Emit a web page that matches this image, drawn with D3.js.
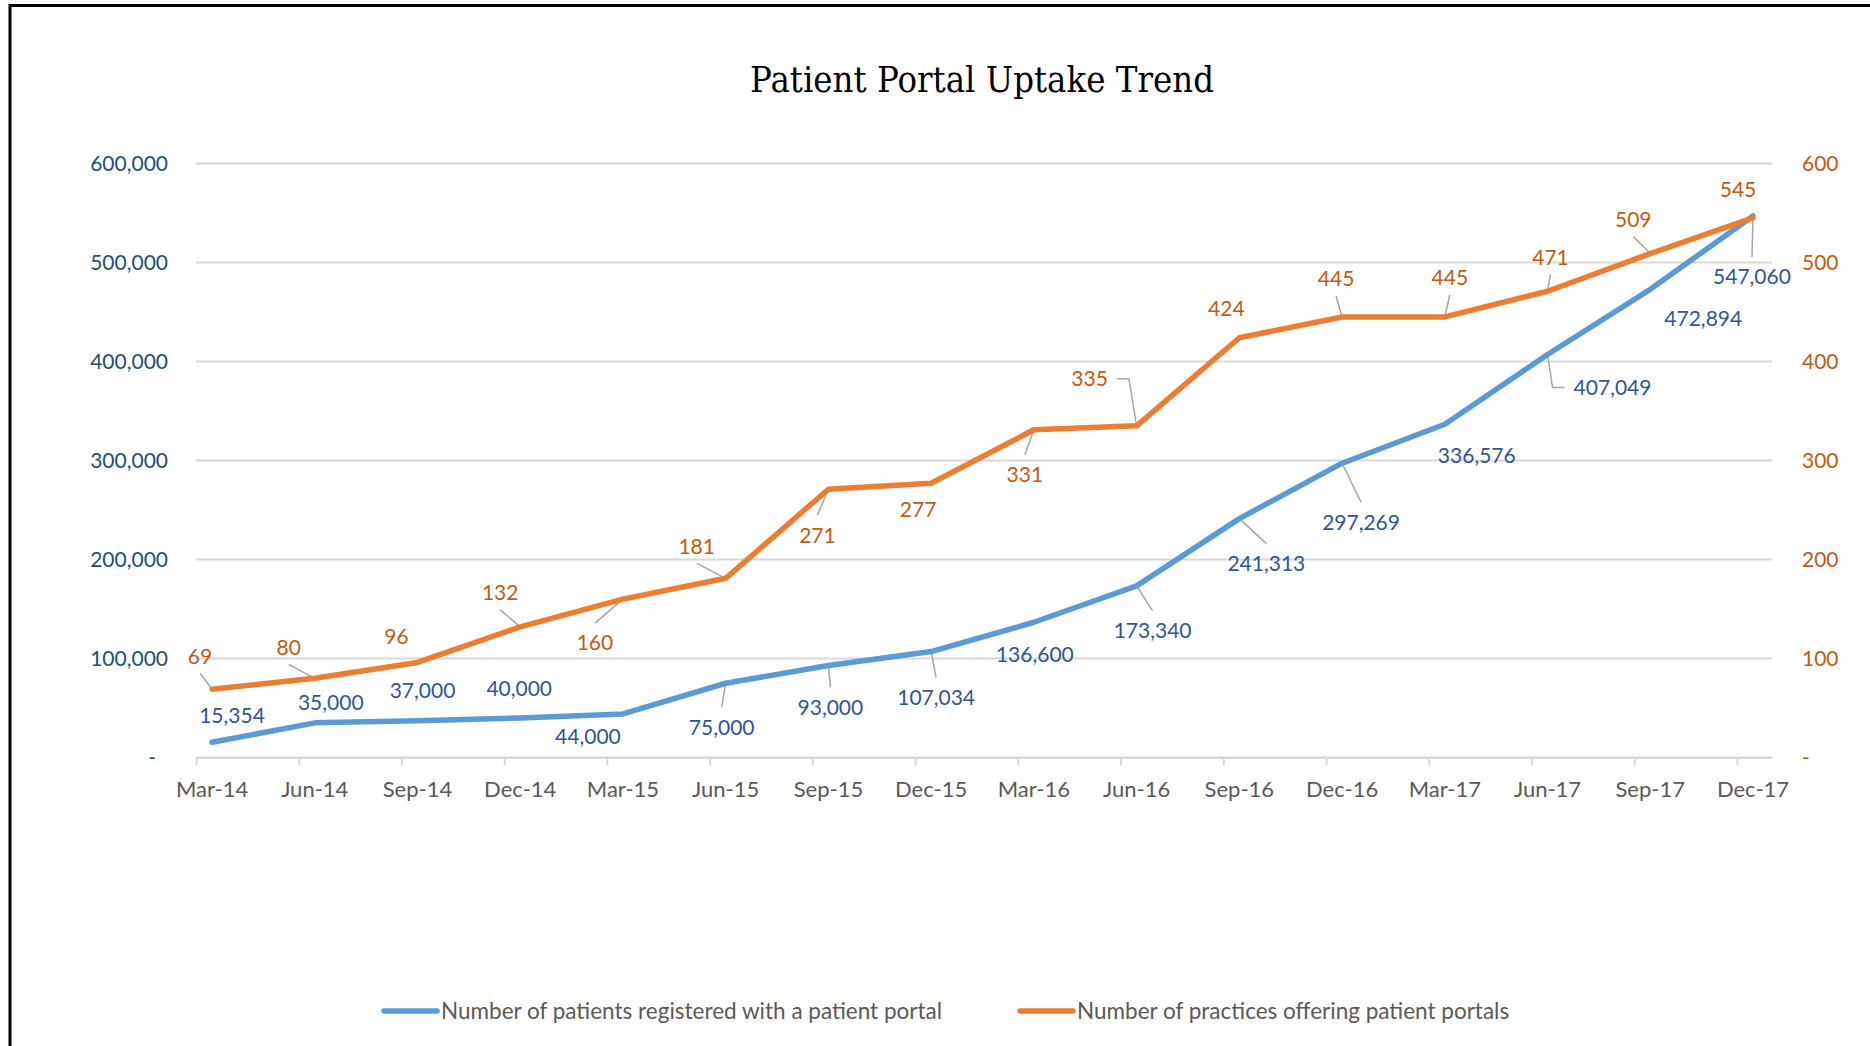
<!DOCTYPE html>
<html>
<head>
<meta charset="utf-8">
<script src="https://cdn.jsdelivr.net/npm/d3@7"></script>
<style>
    html, body { margin: 0; padding: 0; background: #fff; overflow: hidden; }
    text { font-family: Lato, 'Open Sans', sans-serif; }
</style>
</head>
<body>
<script>
const quarters = ['Mar-14', 'Jun-14', 'Sep-14', 'Dec-14', 'Mar-15', 'Jun-15', 'Sep-15', 'Dec-15',
    'Mar-16', 'Jun-16', 'Sep-16', 'Dec-16', 'Mar-17', 'Jun-17', 'Sep-17', 'Dec-17'];
const patients = [15354, 35000, 37000, 40000, 44000, 75000, 93000, 107034,
    136600, 173340, 241313, 297269, 336576, 407049, 472894, 547060];
const practices = [69, 80, 96, 132, 160, 181, 271, 277, 331, 335, 424, 445, 445, 471, 509, 545];
const leftTicks = [0, 100000, 200000, 300000, 400000, 500000, 600000];
const rightTicks = [0, 100, 200, 300, 400, 500, 600];
const seriesNames = ['Number of patients registered with a patient portal', 'Number of practices offering patient portals'];

// where each data label sits relative to its point, and what kind of leader line it gets
const patientLabelOffsets = [[20, -27], [16, -20], [5, -30], [-1, -29], [-35, 23], [-4, 44], [2, 42], [5, 46],
    [1, 32], [16, 45], [27, 45], [19, 59], [32, 31], [65, 33], [53, 29], [-1, 61]];
const patientLeaders = ['', '', '', '', '', 'v', 'v', 'v', '', 'v', 'v', 'v', '', 'h', '', 'v'];
const practiceLabelOffsets = [[-12, -33], [-26, -31], [-21, -26], [-20, -34], [-28, 44], [-29, -32], [-11, 46], [-13, 26],
    [-9, 45], [-47, -47], [-13, -29], [-6, -38], [5, -39], [3, -34], [-17, -34], [-15, -28]];
const practiceLeaders = ['v', 'v', '', 'v', 'v', 'v', 'v', '', 'v', 'h', '', 'v', 'v', 'v', 'v', ''];

const BLUE = '#5B9BD5';
const ORANGE = '#ED7D31';
const GRID = '#D9D9D9';

const svg = d3.select('body')
    .append('svg')
    .attr('width', 1870)
    .attr('height', 1046);

// outer frame, runs off the right and bottom edges
svg.append('rect')
    .attr('x', 10)
    .attr('y', 5.5)
    .attr('width', 3000)
    .attr('height', 3000)
    .attr('fill', 'none')
    .attr('stroke', '#000')
    .attr('stroke-width', 3);

svg.append('text')
    .attr('x', 982)
    .attr('y', 92)
    .attr('text-anchor', 'middle')
    .style('font-family', "'DejaVu Serif', 'Liberation Serif', serif")
    .style('font-size', '35px')
    .attr('textLength', 464)
    .attr('lengthAdjust', 'spacingAndGlyphs')
    .attr('fill', '#000')
    .text('Patient Portal Uptake Trend');

const x = d3.scaleLinear().domain([-0.156, 15.185]).range([196, 1772]);
const yL = d3.scaleLinear().domain([0, 600000]).range([757.5, 163.5]);
const yR = d3.scaleLinear().domain([0, 600]).range([757.5, 163.5]);

// gridlines
svg.append('g')
    .selectAll('line')
    .data(leftTicks)
    .enter()
    .append('line')
    .attr('x1', x.range()[0])
    .attr('x2', x.range()[1])
    .attr('y1', d => yL(d))
    .attr('y2', d => yL(d))
    .attr('stroke', GRID)
    .attr('stroke-width', 2);

// category tick marks sit a little before each point
const xAxis = svg.append('g')
    .attr('transform', 'translate(0,' + yL(0) + ')')
    .call(d3.axisBottom(x)
        .tickValues(quarters.map((q, i) => i - 0.156))
        .tickFormat('')
        .tickSize(8)
        .tickSizeOuter(0));
xAxis.select('.domain').attr('stroke', GRID).attr('stroke-width', 2);
xAxis.selectAll('.tick line').attr('stroke', GRID).attr('stroke-width', 2);

svg.append('g')
    .selectAll('text')
    .data(quarters)
    .enter()
    .append('text')
    .attr('x', (d, i) => x(i))
    .attr('y', 789)
    .attr('dy', '0.35em')
    .attr('text-anchor', 'middle')
    .attr('fill', '#595959')
    .style('font-size', '22px')
    .text(d => d);

const leftAxis = svg.append('g')
    .attr('transform', 'translate(' + x.range()[0] + ',0)')
    .call(d3.axisLeft(yL)
        .tickValues(leftTicks)
        .tickSize(0)
        .tickPadding(28)
        .tickFormat(d => d ? d3.format(',')(d) : '-'));
leftAxis.select('.domain').remove();
leftAxis.selectAll('text')
    .attr('fill', '#1F4E79')
    .style('font-size', '21px')
    .attr('dx', d => d ? 0 : -12);

const rightAxis = svg.append('g')
    .attr('transform', 'translate(' + x.range()[1] + ',0)')
    .call(d3.axisRight(yR)
        .tickValues(rightTicks)
        .tickSize(0)
        .tickPadding(30)
        .tickFormat(d => d ? d3.format(',')(d) : '-'));
rightAxis.select('.domain').remove();
rightAxis.selectAll('text')
    .attr('fill', '#C55A11')
    .style('font-size', '21px');

const leaderLayer = svg.append('g');

function drawSeries(values, y, color, labelColor, offsets, leaders) {
    const line = d3.line()
        .x((d, i) => x(i))
        .y(d => y(d));

    const labels = svg.append('g')
        .selectAll('text')
        .data(values)
        .enter()
        .append('text')
        .attr('x', (d, i) => x(i) + offsets[i][0])
        .attr('y', (d, i) => y(d) + offsets[i][1])
        .attr('dy', '0.35em')
        .attr('text-anchor', 'middle')
        .attr('fill', labelColor)
        .style('font-size', '21px')
        .text(d => d3.format(',')(d));

    labels.each(function(d, i) {
        if (!leaders[i]) return;
        const px = x(i);
        const py = y(d);
        const cx = px + offsets[i][0];
        const cy = py + offsets[i][1];
        let pts;
        if (leaders[i] === 'v') {
            const sy = cy < py ? cy + 17 : cy - 20;
            pts = [[cx, sy], [px, py]];
        } else {
            const half = this.getComputedTextLength() / 2;
            const side = px > cx ? 1 : -1;
            const sx = cx + side * (half + 9);
            pts = [[sx, cy], [sx + side * 12, cy], [px, py]];
        }
        leaderLayer.append('path')
            .attr('d', d3.line()(pts))
            .attr('fill', 'none')
            .attr('stroke', '#A6A6A6')
            .attr('stroke-width', 1.5);
    });

    svg.append('path')
        .datum(values)
        .attr('d', line)
        .attr('fill', 'none')
        .attr('stroke', color)
        .attr('stroke-width', 5.5)
        .attr('stroke-linejoin', 'round')
        .attr('stroke-linecap', 'round');
}

drawSeries(patients, yL, BLUE, '#2F5597', patientLabelOffsets, patientLeaders);
drawSeries(practices, yR, ORANGE, '#C55A11', practiceLabelOffsets, practiceLeaders);

// legend
const legendItems = [
    {name: seriesNames[0], color: BLUE, x: 384},
    {name: seriesNames[1], color: ORANGE, x: 1020}
];
const legend = svg.append('g')
    .selectAll('g')
    .data(legendItems)
    .enter()
    .append('g')
    .attr('transform', d => 'translate(' + d.x + ',1011)');

legend.append('line')
    .attr('x1', 0)
    .attr('x2', 53)
    .attr('stroke', d => d.color)
    .attr('stroke-width', 5.5)
    .attr('stroke-linecap', 'round');

legend.append('text')
    .attr('x', 57)
    .attr('dy', '0.35em')
    .attr('fill', '#595959')
    .style('font-size', '22.5px')
    .text(d => d.name);
</script>
</body>
</html>
